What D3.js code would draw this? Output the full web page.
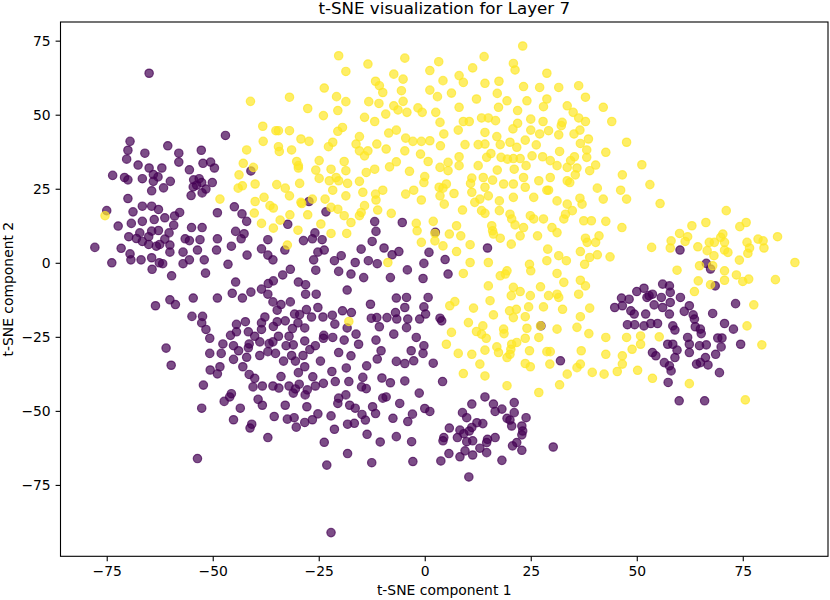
<!DOCTYPE html>
<html><head><meta charset="utf-8">
<script src="https://cdn.jsdelivr.net/npm/d3@7"></script>
<style>
body{margin:0;background:#fff}
svg{display:block}
text{font-family:"DejaVu Sans",sans-serif;fill:#000}
</style>
</head><body>
<svg id="chart" width="830" height="600"></svg>
<script>
const titleText = "t-SNE visualization for Layer 7";
const xLabelText = "t-SNE component 1";
const yLabelText = "t-SNE component 2";
const xTicks = [-75, -50, -25, 0, 25, 50, 75];
const yTicks = [-75, -50, -25, 0, 25, 50, 75];
const classColors = ["#440154", "#fde725"];

// class 0 (purple)
const class0 = [
[-65,64],[-47,43],[-69.5,41],[-70,38],[-66,37],[-60.6,39.5],[-70.3,35],[-67.6,33],[-65,32],[-62,32],[-58,37],[-58,34],[-52.7,38],[-52.3,33.6],[-50.5,34],[-49.6,32],[-55.5,31.4],[-73.6,29.5],[-70.8,28.8],[-70,28],[-66.6,28.4],[-64,29.8],[-62.9,29],[-60,27.5],[-64,27.5],[-64.4,24.3],[-61.6,25.3],[-54.5,28],[-53.2,28.4],[-52.6,27.1],[-53.8,26.2],[-51.6,24.9],[-54.6,25.6],[-50.1,27.1],[-55.1,22.7],[-52.5,23.6],[-70,21.7],[-66.6,19.1],[-64.4,19.1],[-62.8,18],[-68.8,17.2],[-75,17.6],[-72.3,12.4],[-69.2,13.3],[-66.6,14],[-63.8,14.6],[-61.3,15.2],[-59,15.8],[-57.8,17],[-59.2,12.7],[-55,11.9],[-52.5,11.9],[-48.9,16.9],[-67.2,10.1],[-64.4,10.7],[-62.8,10.9],[-65.1,8.8],[-68,8.2],[-69.8,8.8],[-60.3,10.1],[-61.3,8],[-62.5,6.2],[-60.1,6],[-66.6,7.2],[-65.1,6.2],[-63.3,5.6],[-56.5,8.1],[-55.5,7.5],[-53,7.8],[-48.9,8.1],[-77.8,5.2],[-71.6,4.9],[-69.5,3],[-69.3,1],[-66.9,1],[-73.8,0],[-64.4,1.7],[-62.6,0],[-60.1,3.6],[-57,3.6],[-53.6,4.3],[-55.5,1],[-52,1],[-45.6,5.6],[-49.1,4.3],[-46.4,-0.5],[-64.3,-2.2],[-61.8,-0.3],[-59.7,-4.4],[-51.7,-3.5],[-57,-0.3],[-41,31],[-63.5,-14.5],[-61,-28.8],[-59.8,-34.6],
[-44.9,18.9],[-43.1,16.5],[-42,14],[-27.3,20.7],[-23.3,17.2],[-44.6,10.6],[-42.6,9.8],[-37,7.8],[-32.3,13],[-28.6,7.5],[-25.9,10.1],[-26.5,8.1],[-24.2,7.8],[-43.3,8.1],[-38.5,4.7],[-37,2.6],[-35.8,1],[-41.9,2.6],[-33,4.3],[-25.2,3.6],[-26.2,1],[-23.7,4.3],[-25.7,-2.5],[-31.7,-2.2],[-44.6,-6.5],[-38.5,-8.9],[-36.9,-7],[-35.7,-6.1],[-33.5,-4.1],[-29.8,-6.5],[-28.1,-7.4],[-28.1,-10.6],[-25.6,-10.6],[-45.4,-10.3],[-43,-11.9],[-41,-9.9],[-37,-10.6],[-35.8,-13.2],[-33.9,-14.1],[-34.8,-16],[-31.7,-13.2],[-30.7,-17.3],[-27.9,-15.8],[-25.2,-15.1],[-24,-18.3],[-54.9,-18.1],[-52.4,-18.1],[-54.6,-11.9],[-48.9,-11.9],[-52.6,-20.3],[-51.6,-22.5],[-50.7,-25.5],[-50.7,-30.6],[-48,-30.6],[-47.6,-27.4],[-45.8,-24.5],[-44.4,-23.3],[-42.3,-19.9],[-41.6,-23.3],[-40.1,-24.8],[-38.5,-22.5],[-38.5,-20.3],[-37.7,-18.3],[-34.8,-19.9],[-32.9,-19.6],[-31.2,-22.2],[-29.9,-20.3],[-28.3,-22],[-26.7,-18.3],[-23.8,-24.5],[-25.2,-51],[-26.5,-53],[-28.3,-53.9],[-30.8,-52.3],[-32.9,-48.1],[-37,-59],[-35.5,-51.9],[-38.3,-48.1],[-40.8,-54.5],[-45.1,-53],[-43.5,-49.1],[-45.6,-44.2],[-47.3,-46.8],[-52.2,-41.3],[-52.6,-49.1],[-53.6,-66.1],[-50.6,-36.2],[-48.9,-37.5],[-48.3,-35.1],[-41.4,-37.7],[-40.1,-39],[-39.3,-46.1],[-38.3,-41.6],[-35.8,-41.6],[-33.9,-38.4],[-32,-41.6],[-30.5,-42.6],[-29.6,-41],[-27.7,-42.9],[-25.8,-41.6],[-23.9,-40.7],[-28.3,-35.1],[-29.8,-37.1],[-30.5,-33.2],[-33.3,-33.2],[-35.2,-30.6],[-37,-30],[-38.9,-31.3],[-42,-31.9],[-42.9,-35.1],[-45.1,-32.6],[-43.9,-29.7],[-41.6,-28.7],[-38.9,-26.7],[-35.8,-26.7],[-34.5,-24.8],[-32.7,-28],[-31.4,-31.3],[-28.7,-31.3],[-27.1,-29.3],[-25.8,-28],[-24.6,-33.2],[-23.9,-25.5],[-28.3,-26.4],[-32,-24.8],[-41.4,-27.4],[-45.1,-28],[-60.1,-12.5],[-58.8,-14.1],
[-34.4,-42.3],[-40.5,-41.9],[-31,-44],[-28.2,-44.6],[-26.4,-38.5],[-27.8,-48.6],[-32.4,-52.8],[-30.3,-55.5],[-23.7,-60.6],[-23.1,-68.3],[-41.2,-55.8],[-46,-45.3],[-36.7,-27.3],[-31,-27.7],[-29.5,-17.5],[-35.7,-21.5],[-44.4,-20.8],
[-11.8,13.9],[-11.5,10.6],[-5.3,13.6],[-21.3,0.7],[-19.7,2.4],[-16.4,0.1],[-15,4.6],[-13.3,0.7],[-12.4,7.2],[-9.6,5],[-7.7,2.7],[-6.1,3.8],[-20.3,-2.9],[-17.4,-3.8],[-14.4,-5],[-8.1,-5],[-4.1,-2.4],[-0.2,-0.2],[-0.4,-5.3],[1,3.5],[4.8,1.1],[5.5,-3.8],[14.8,5],[2.5,10.3],[-11.2,-0.3],[-18.3,-9.2],[-12.8,-14],[-6.7,-11.9],[-4.3,-11.7],[-4.7,-15.1],[0.8,-11.7],[-0.2,-14.9],[0.2,-17.3],[-19.4,-16.2],[-12.6,-18.7],[-11.3,-18.5],[-8.9,-18.5],[-6.6,-19],[-4,-19],[-6.9,-16.8],[-10.7,-21.6],[-4.3,-21.9],[-1.2,-19],[3.6,-18.7],[4,-19.6],[-7.3,-24.1],[-2,-25.2],[-0.2,-28],[-0.4,-30.6],[-21.7,-25.2],[-19,-26.1],[-15.6,-27.5],[-16.2,-24.1],[-20.3,-30.3],[-17.4,-31.4],[-13.7,-34.8],[-10.3,-29.7],[-11.2,-32.5],[-6.7,-33.3],[-4.7,-34],[-2.6,-33.1],[-3.2,-29.7],[2,-33.9],[32,-33.1],[27.4,-21.3],[-21.8,-17.7],[-17.3,-16.8],[-21.2,-20.7],[-18.3,-22],[-11.5,-26.1],[-18.5,-35.5],
[-21.9,-36.7],[-21.1,-40.1],[-17.9,-40.1],[-14.6,-38.7],[-14.9,-41.9],[-10.1,-38.9],[-8.1,-40.5],[-4.7,-39.9],[-1.3,-44],[4.2,-40.1],[-20.3,-45.7],[-20.5,-47.5],[-18.6,-44.6],[-16.4,-49.1],[-12.3,-48.6],[-11.6,-50.9],[-9.9,-45.7],[-9.1,-45.3],[-5.9,-47.5],[-2.9,-51.1],[-4,-53.6],[0,-49.2],[1.2,-50.2],[-22.1,-51.7],[-21.3,-56.2],[-18.2,-54.5],[-16.6,-54.2],[-14,-53.1],[-7.5,-52.5],[-18.2,-64.4],[-13.6,-57.9],[-10.5,-60.5],[-6.7,-58.7],[-3.1,-60.4],[-12.5,-67.5],[-2.8,-67.1],[-22.1,-91.1],[-13.8,-42.5],[-17.7,-48.1],[-14.8,-51.2],
[14.2,-45.3],[11.1,-47.7],[16.2,-47.7],[16.6,-50.2],[18.2,-49.4],[21.1,-47.2],[21.1,-50.6],[19.4,-52.5],[20.1,-53.1],[20.5,-55.1],[22.9,-55.1],[23.1,-56.8],[22.9,-58.1],[23.9,-52.3],[21.7,-60.7],[20.7,-61.8],[22.9,-63.3],[18.2,-66.7],[14.6,-64.1],[13,-62.6],[11.3,-64.9],[9.5,-63.5],[8.3,-65.5],[5.7,-64.4],[3.8,-66.9],[4.5,-59],[4.3,-60.1],[5.8,-55.8],[7.7,-59],[8.3,-56.5],[9.2,-57.7],[10.5,-56.8],[11.1,-55.6],[12.3,-54],[13.7,-54.3],[11.3,-60.1],[9.9,-60.4],[14.8,-59.6],[16.6,-59],[14.6,-60.7],[8.9,-50.6],[9.9,-52.3],[10.4,-72.3],[30.3,-62.2],
[60.2,4.3],[66.4,-0.2],[67.4,-2.1],[68.5,-7.8],[73.3,-13.8],[46.4,-11.9],[48.2,-12.3],[44.8,-15.1],[46.6,-14.5],[48.6,-16.2],[49.4,-17.3],[50,-9.7],[51.7,-8.6],[52.4,-11.7],[52.9,-11.1],[53.7,-10.6],[52.1,-17.3],[54.1,-14.2],[56.1,-7.2],[57.7,-7.8],[57.9,-10],[55.8,-11.7],[57.9,-13.4],[56.1,-15.1],[57.7,-17.3],[60.3,-11.7],[61.2,-16.4],[62.4,-14.5],[63.3,-17.6],[63.6,-19],[47.8,-20.9],[49.5,-20.9],[51.7,-21.3],[53.3,-20.5],[54.9,-20.5],[58.5,-21.3],[59,-22.7],[63.8,-21.6],[65,-22.4],[65.2,-23.9],[67.9,-17.1],[70.7,-20.5],[72.8,-22.4],[74.5,-27.5],[62,-25.2],[69.1,-25.4],[70.1,-25.4],[69.9,-28.4],[68.6,-30.9],[66.4,-27.7],[64.8,-28],[62.4,-27.5],[62.4,-30.3],[57.3,-27.5],[58.5,-27.5],[59.5,-29.5],[59,-32],[53.7,-30.3],[54.5,-31.4],[56.5,-33.7],[57.7,-34.8],[58.1,-36.5],[57.4,-40.4],[64.1,-34.2],[65,-33.7],[66.2,-32],[66.8,-34.5],[69.5,-37.1],[60,-46.6],[66,-46.6]
];

// class 1 (yellow)
const class1 = [
[23.1,73.2],[-20.3,69.9],[-4.7,69.1],[14,69.6],[3.3,67.9],[-13.4,67.1],[20.9,67.3],[21.3,65.1],[-18.6,64.6],[1.2,64.9],[11.3,65.8],[28.8,64],[-7.3,63.7],[8.1,63.2],[-11.6,61.3],[-5.1,62],[4.3,61.5],[9.1,60.9],[14.2,60.6],[17.5,61.3],[-23.7,59],[-10.7,59.8],[-9.9,57.5],[-5.5,58.1],[1.2,58.3],[6.3,57.3],[23.3,59.5],[27.1,59.2],[31.6,59.2],[-20.8,56.1],[-18.6,54.4],[-13.2,54.4],[-10.8,53.8],[-5.1,54.5],[3,56.1],[12.2,55.3],[17.1,57.2],[19.4,54.7],[28.8,55.3],[24.1,54.7],[33.6,53],[-27.6,52.1],[-23.9,49.7],[-20.5,51.4],[-14.2,49.1],[-11.8,47.7],[-9.2,50.2],[-7.3,53],[-6.3,51.6],[-4.2,50.8],[-1.6,52.3],[-0.6,50.8],[2.6,50.8],[8.1,52.5],[3.6,47.4],[9.1,47.7],[10.5,47.7],[13.4,48.9],[15,48.9],[16.7,48],[17.4,52.5],[21.9,51.4],[28,52.7],[25,48.5],[27.9,47.7],[21.9,47.1],[32.2,46.3],[32.4,47.4],[-19.4,45.7],[-20.5,44.4],[-22.7,39.2],[-21.7,40.7],[-27.3,41],[-29.2,41.8],[-15.4,42.6],[-16.2,40.1],[-11.3,40.1],[-8.5,43.8],[-6.7,44.8],[-4.5,42.1],[-2.8,41],[-0.8,41],[1.2,41.2],[4.5,43.5],[3.7,39.5],[7.9,44.8],[9.5,39.9],[12.6,39.9],[14.2,40.1],[14.2,44],[17,42.6],[17.8,39.9],[20.8,45.2],[20.1,40.7],[21.7,39],[23.7,41.4],[25,44.8],[27.1,43.5],[29.2,44.6],[31.6,43.2],[26.3,39.8],[-24.9,34.5],[-25.7,31.3],[-22.1,31.6],[-19,34.2],[-20.9,28.8],[-18.6,31.1],[-15.4,37.8],[-14.2,36.1],[-13.4,37.8],[-9.1,38.4],[-8.3,32.4],[-6.7,34.1],[-4.7,37.8],[-1,36.7],[0.8,34.2],[3.6,32.2],[5.5,33.9],[5.5,31.1],[8.1,35.8],[8.1,32.8],[12.6,32.8],[14.6,35.6],[15.6,36.9],[18,35.6],[19.5,35],[20.9,35.2],[22.5,35.2],[25.3,36.1],[27.8,35.8],[29.6,34.5],[31.8,37.6],[31.2,32.8],[33.6,32.2],[17.1,31.3],[21.1,31.6],[23.9,32.8],[-24.9,28.5],[-22.5,27.7],[-20.3,27.7],[-18.2,26.8],[-15.4,27.5],[-14.6,23.8],[-11.8,31.6],[-13.8,30.5],[-3.6,30.9],[0,29.1],[-0.2,27.1],[3.4,25.5],[4.3,25.2],[6.9,23.4],[5.1,26.6],[11.1,28.6],[10.8,26.8],[11.1,23.8],[13.8,28.8],[14.2,25.5],[16,27.9],[18.6,26.6],[20.9,26.6],[23.3,28.8],[23.7,25.5],[26.9,27.7],[29.6,28.8],[29.2,24.5],[33.6,27.7],[-23.5,21.5],[-26.5,21.5],[-21.7,24.5],[-18.6,22.6],[-11.6,23.2],[-11.5,21.2],[-9.9,24.5],[-2.6,24.5],[-0.8,21.2],[-4.5,23.2],[3.6,22.6],[4.6,19.8],[13,21.5],[15,22.6],[17.6,20.9],[20.9,22.1],[25.7,22.1],[28.8,24.5],[31.2,20.9],[-29.2,20.4],
[-41.1,54.5],[-31.9,55.9],[-38.2,46.1],[-35.1,44.6],[-34.5,44.6],[-31.9,44.6],[-38.1,41],[-42,38.1],[-34.5,39.2],[-34.3,37.6],[-31.4,38.1],[-30.2,34.2],[-29.8,32.8],[-29.8,32],[-42.8,33.6],[-43.8,29.7],[-40.4,32.2],[-43,26],[-44,25.2],[-40,26.6],[-34.9,26.4],[-32.9,25.2],[-29.5,26.8],[-31.9,22.6],[-37.9,22.1],[-36.5,19.3],[-35.7,18.5],[-40,20.7],[-48.3,21.5],[-29,20],
[-40.2,16.8],[-38.5,13.3],[-35.7,11.7],[-34.1,14.4],[-31.8,16.2],[-29.9,11],[-32.4,6],[-75.4,15.9],
[-27.6,16.2],[-22.1,18.7],[-20.5,18.1],[-19,15.9],[-17.4,13.6],[-24.5,13.1],[-22.1,9.9],[-18.4,9.9],[-15.4,15.9],[-15,17],[-14.2,19.3],[-11.1,17.8],[-7.9,16.7],[-8.7,0.1],[-17.9,-19.8],[-2,13.3],[-1.8,10.8],[-0.8,6.9],[2,14],[2.4,9.9],[2.4,7.4],[4.3,5.7],[5.8,9.7],[7.5,12.5],[8.5,9.1],[8.9,17.8],[10.7,6.1],[7.5,3.8],[10.7,0.1],[9.1,-3.6],[11.8,20.4],[13.4,17.6],[14.2,16.7],[15.8,12.5],[16,10.8],[16.2,9.7],[17.8,8.3],[17.6,17.6],[20.1,16.4],[20.5,14.8],[21.3,12.8],[22.5,9.1],[23.3,11.9],[24.9,15.9],[25.7,14.8],[26.6,9.1],[28,14.8],[30,11.9],[31.2,10.2],[32.8,14.8],[33.2,16.4],[33.6,19.8],[15,0.1],[20.4,6.3],[17.8,-4.4],[19,-3.8],[19.4,-2.7],[15,-7.8],[20.9,-8.3],[20.4,-11.1],[22.5,-9.7],[24.7,-0.5],[25,-2.7],[28.8,0.7],[29,4.6],[31.6,2.4],[33.4,0.7],[31.2,-3.6],[32.8,-6.6],[27.3,-8.1],[31.2,-10.6],[31.6,-11.7],[24.9,-11.1],[29.2,-11.1],[32.5,-15.7],[28,-14.9],[24.5,-14.9],[21.6,-15.7],[20.9,-18.5],[20,-16.2],[23.7,-18.2],[15.4,-12.8],[11.5,-15.3],[7.1,-13.1],[5.9,-14.5],[10.3,-20.2],[16.2,-17.6],[13.7,-21.3],[12.2,-23.2],[13.4,-24.1],[14.5,-25.5],[18.6,-22.4],[18.7,-23.9],[24.1,-22.1],[27.3,-21.3],[31.2,-22.4],[26.9,-25.2],[17,-28.4],[17.4,-30.3],[20.5,-27.5],[20.3,-29.2],[20.1,-30.9],[21.7,-26.9],[23.7,-25.5],[24.7,-29.7],[28.8,-30],[29.6,-30],[29.5,-34.2],[23.7,-34],[24.9,-35.1],[19.4,-32],[14.2,-29.5],[13,-34.2],[11.1,-30.9],[7.9,-30.6],[6.3,-23.5],[5.1,-27.5],[9.1,-37.4],[14.2,-38.2],
[19.4,-41.5],[26.9,-43.8],[31.8,-41.2],[33.6,-37.6],
[36.3,59.8],[37.9,55.9],[35,50.8],[36.3,48.9],[37.9,47.7],[42.1,52.5],[44.1,47.7],[35.2,43.5],[36.6,44.8],[38.6,41.8],[36.7,40.3],[38.2,38.1],[38.2,35.6],[35.3,35.8],[34.4,34.5],[35.9,32],[35.5,29.7],[38.9,31.1],[40.3,33],[42.7,37.3],[47.6,40.7],[51.2,33.1],[46.6,29.7],[53.1,26.4],[40.7,25.2],[46.2,24.5],[47.6,21.5],[42.1,21.5],[36.6,21.8],[37.1,19.8],[34.2,27.1],[55.5,20],[71.1,17.6],[34.8,17.6],
[37.5,14.2],[39.3,14.2],[42.7,14],[46.5,11.9],[37.9,8.3],[38.3,6.9],[40.3,6.9],[41.1,9.1],[36.7,3.8],[38.9,1.8],[40.7,2.7],[43.7,2],[37.7,-0.5],[53.5,5.2],[58.1,7.4],[57.9,5],[60.1,9.9],[62,8.8],[61.4,7.2],[63,12.5],[66.3,13.6],[74.3,12.2],[75.8,13.6],[64.4,5.4],[66.6,4.1],[68.2,2.4],[67.1,6.9],[68.3,6.9],[69.8,8.6],[70.3,9.7],[70.7,6.9],[70.7,4.3],[71.5,3.5],[76,6.9],[76.6,5],[76.2,3.2],[78.6,8],[79.8,7.4],[80,5],[83.2,8.8],[87.3,0.1],[74.2,0.9],[64.8,-1],[67.9,-1],[59.5,-2.5],[70.7,-2.7],[73.5,-4.1],[70.7,-5.9],[75,-6.3],[76.4,-5.5],[82.7,-5.7],[64.5,-6.1],[67.4,-7.4],[63.6,-9.7],[77.6,-14.2],[76,-21.3],[79.5,-27.7],[36.7,-5.9],[37.9,-7.8],[36.3,-10.6],[38.9,-15.3],[36.7,-18.2],[35.9,-21.8],[38.7,-23.9],[42.7,-25.2],[47.6,-25.2],[50.9,-24.7],[50.9,-27.5],[48.9,-29.2],[55.3,-25],[46.6,-31.4],[46.6,-34.2],[45.4,-36.7],[50.2,-36.3],[53.7,-39],[62.4,-40.8],[42.3,-37.6],[39.5,-37],[36.7,-34.2],[35.9,-35.4],[36.9,-29.7],[42.7,-30.9],[75.6,-46.3]
];

const svg = d3.select("#chart");
const plot = {left: 60.5, right: 828, top: 22, bottom: 556.3};
const x = d3.scaleLinear().domain([-85.9, 95.1]).range([plot.left, plot.right]);
const y = d3.scaleLinear().domain([-99.1, 81.3]).range([plot.bottom, plot.top]);

svg.append("rect").attr("width", 830).attr("height", 600).attr("fill", "#fff");

const series = [
  {pts: class0, color: classColors[0]},
  {pts: class1, color: classColors[1]}
];
series.forEach(s => {
  svg.append("g").selectAll("circle").data(s.pts).join("circle")
    .attr("cx", d => x(d[0]))
    .attr("cy", d => y(d[1]))
    .attr("r", 4.2)
    .attr("fill", s.color)
    .attr("fill-opacity", 0.7)
    .attr("stroke", s.color)
    .attr("stroke-opacity", 0.7)
    .attr("stroke-width", 1.2);
});

const fmt = d3.format("d");
const xAxis = svg.append("g").attr("transform", `translate(0,${plot.bottom})`)
  .call(d3.axisBottom(x).tickValues(xTicks).tickSize(4.9).tickPadding(4.9).tickFormat(fmt));
const yAxis = svg.append("g").attr("transform", `translate(${plot.left},0)`)
  .call(d3.axisLeft(y).tickValues(yTicks).tickSize(4.9).tickPadding(4.9).tickFormat(fmt));
[xAxis, yAxis].forEach(a => {
  a.select(".domain").remove();
  a.selectAll(".tick line").attr("stroke", "#000").attr("stroke-width", 1.1);
  a.selectAll(".tick text").attr("font-family", "DejaVu Sans").attr("font-size", 13.9).attr("fill", "#000");
});

svg.append("rect")
  .attr("x", plot.left).attr("y", plot.top)
  .attr("width", plot.right - plot.left).attr("height", plot.bottom - plot.top)
  .attr("fill", "none").attr("stroke", "#000").attr("stroke-width", 1.1);

svg.append("text").attr("x", (plot.left + plot.right) / 2).attr("y", 14)
  .attr("text-anchor", "middle").attr("font-size", 16.7).text(titleText);
svg.append("text").attr("x", (plot.left + plot.right) / 2).attr("y", 595)
  .attr("text-anchor", "middle").attr("font-size", 13.9).text(xLabelText);
svg.append("text").attr("transform", `translate(12.7,${(plot.top + plot.bottom) / 2}) rotate(-90)`)
  .attr("text-anchor", "middle").attr("font-size", 13.9).text(yLabelText);
</script>
</body></html>
